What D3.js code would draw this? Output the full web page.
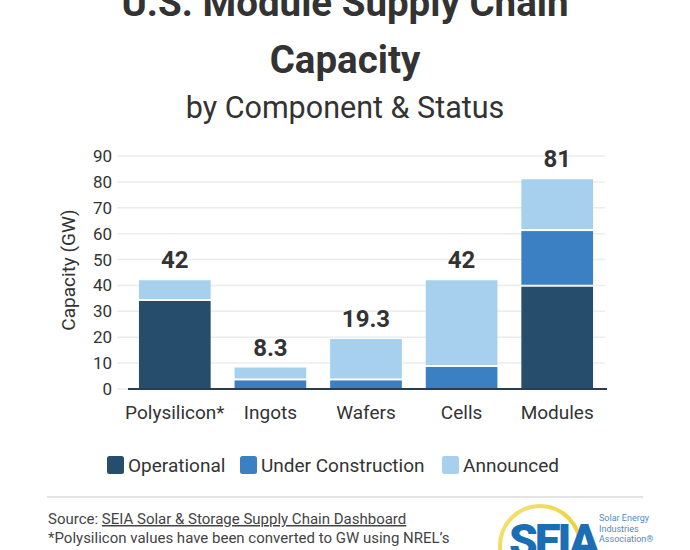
<!DOCTYPE html>
<html>
<head>
<meta charset="utf-8">
<script src="https://cdn.jsdelivr.net/npm/d3@7/dist/d3.min.js"></script>
<style>
  html, body { margin: 0; padding: 0; background: #fff; }
  svg { display: block; font-family: Roboto, "Noto Sans", sans-serif; }
</style>
</head>
<body>
<svg id="chart" width="690" height="550"></svg>
<script>
// ---- data ----
const categories = ["Polysilicon*", "Ingots", "Wafers", "Cells", "Modules"];
const operational = [34, 0, 0, 0, 39.5];
const underConstruction = [0, 3.3, 3.3, 8.5, 21.5];
const announced = [8, 5, 16, 33.5, 20];
const totalLabels = ["42", "8.3", "19.3", "42", "81"];
const seriesNames = ["Operational", "Under Construction", "Announced"];
const seriesColors = ["#264d6b", "#3a80c3", "#a7d0ef"];
const yTicks = [0, 10, 20, 30, 40, 50, 60, 70, 80, 90];

// ---- build table ----
const keys = ["op", "uc", "an"];
const rows = categories.map((c, i) => ({
  cat: c, op: operational[i], uc: underConstruction[i], an: announced[i], label: totalLabels[i]
}));

const svg = d3.select("#chart");

// Title
svg.append("text").attr("x", 345).attr("y", 16).attr("text-anchor", "middle")
  .attr("font-size", 38.5).attr("font-weight", 700).attr("fill", "#333")
  .text("U.S. Module Supply Chain");
svg.append("text").attr("x", 345).attr("y", 73).attr("text-anchor", "middle")
  .attr("font-size", 38.5).attr("font-weight", 700).attr("fill", "#333")
  .text("Capacity");
svg.append("text").attr("x", 345).attr("y", 118).attr("text-anchor", "middle")
  .attr("font-size", 30.5).attr("font-weight", 400).attr("fill", "#333")
  .text("by Component & Status");

// Scales
const x = d3.scaleBand().domain(categories).range([127, 605]).paddingInner(0.25).paddingOuter(0.125);
const y = d3.scaleLinear().domain([0, 90]).range([389, 156]);

// Gridlines
svg.append("g").selectAll("line").data(yTicks).join("line")
  .attr("x1", 117).attr("x2", 605)
  .attr("y1", d => y(d)).attr("y2", d => y(d))
  .attr("stroke", "#ececec").attr("stroke-width", 1.5);

// Y axis labels
const yAxis = d3.axisLeft(y).tickValues(yTicks).tickSize(0).tickPadding(0);
const yg = svg.append("g").attr("transform", "translate(112,0)").call(yAxis);
yg.select(".domain").remove();
yg.selectAll("text").attr("font-size", 17).attr("fill", "#333").attr("font-family", "Roboto");

// Y axis title
svg.append("text").attr("transform", "translate(75,270) rotate(-90)")
  .attr("text-anchor", "middle").attr("font-size", 19).attr("fill", "#333")
  .text("Capacity (GW)");

// Stacked bars
const stack = d3.stack().keys(keys);
const stacked = stack(rows);
const gBars = svg.append("g");
stacked.forEach((s, si) => {
  gBars.append("g").attr("fill", seriesColors[si])
    .selectAll("rect").data(s.filter(d => d[1] - d[0] > 0)).join("rect")
    .attr("x", d => x(d.data.cat))
    .attr("width", x.bandwidth())
    .attr("y", d => y(d[1]))
    .attr("height", d => y(d[0]) - y(d[1]) - (d[0] > 0 ? 2 : 0));
});

// Baseline
svg.append("line").attr("x1", 128).attr("x2", 607).attr("y1", y(0)).attr("y2", y(0))
  .attr("stroke", "#2b3e50").attr("stroke-width", 2);

// Total labels
const totals = rows.map(r => r.op + r.uc + r.an);
svg.append("g").selectAll("text").data(rows).join("text")
  .attr("x", d => x(d.cat) + x.bandwidth() / 2)
  .attr("y", (d, i) => y(totals[i]) - 12)
  .attr("text-anchor", "middle").attr("font-size", 24).attr("font-weight", 700).attr("fill", "#333")
  .text(d => d.label);

// X axis labels
const xAxis = d3.axisBottom(x).tickSize(0).tickPadding(0);
const xg = svg.append("g").attr("transform", "translate(0,405)").call(xAxis);
xg.select(".domain").remove();
xg.selectAll("text").attr("font-size", 19).attr("fill", "#333").attr("font-family", "Roboto");

// Legend
const legendX = [107, 240, 442];
const lg = svg.append("g");
seriesNames.forEach((n, i) => {
  lg.append("rect").attr("x", legendX[i]).attr("y", 456).attr("width", 17).attr("height", 18)
    .attr("rx", 2.5).attr("fill", seriesColors[i]);
  lg.append("text").attr("x", legendX[i] + 21).attr("y", 472)
    .attr("font-size", 19).attr("fill", "#333").text(n);
});

// Footer separator
svg.append("line").attr("x1", 47).attr("x2", 643).attr("y1", 497).attr("y2", 497)
  .attr("stroke", "#e3e3e3").attr("stroke-width", 2);

// Source
const src = svg.append("text").attr("x", 48).attr("y", 524).attr("font-size", 15).attr("fill", "#444");
src.append("tspan").text("Source: ");
src.append("tspan").attr("text-decoration", "underline").text("SEIA Solar & Storage Supply Chain Dashboard");
svg.append("text").attr("x", 48).attr("y", 543).attr("font-size", 15).attr("fill", "#444")
  .text("*Polysilicon values have been converted to GW using NREL\u2019s");

// Logo
const logo = svg.append("g");
const grad = svg.append("defs").append("linearGradient").attr("id", "ring")
  .attr("x1", "0").attr("y1", "0").attr("x2", "1").attr("y2", "1");
grad.append("stop").attr("offset", "0%").attr("stop-color", "#f3e27a");
grad.append("stop").attr("offset", "60%").attr("stop-color", "#f0d23a");
grad.append("stop").attr("offset", "100%").attr("stop-color", "#fff6c8");
logo.append("circle").attr("cx", 540).attr("cy", 546).attr("r", 40)
  .attr("fill", "none").attr("stroke", "url(#ring)").attr("stroke-width", 4);
logo.append("text").attr("x", 509).attr("y", 557).attr("font-size", 46).attr("font-weight", 900)
  .attr("fill", "#1b6db4").attr("letter-spacing", -3).text("SEIA");
["Solar Energy", "Industries", "Association\u00AE"].forEach((t, i) => {
  logo.append("text").attr("x", 599).attr("y", 521 + i * 10.5).attr("font-size", 9)
    .attr("fill", "#4f8cc2").text(t);
});
</script>
</body>
</html>
